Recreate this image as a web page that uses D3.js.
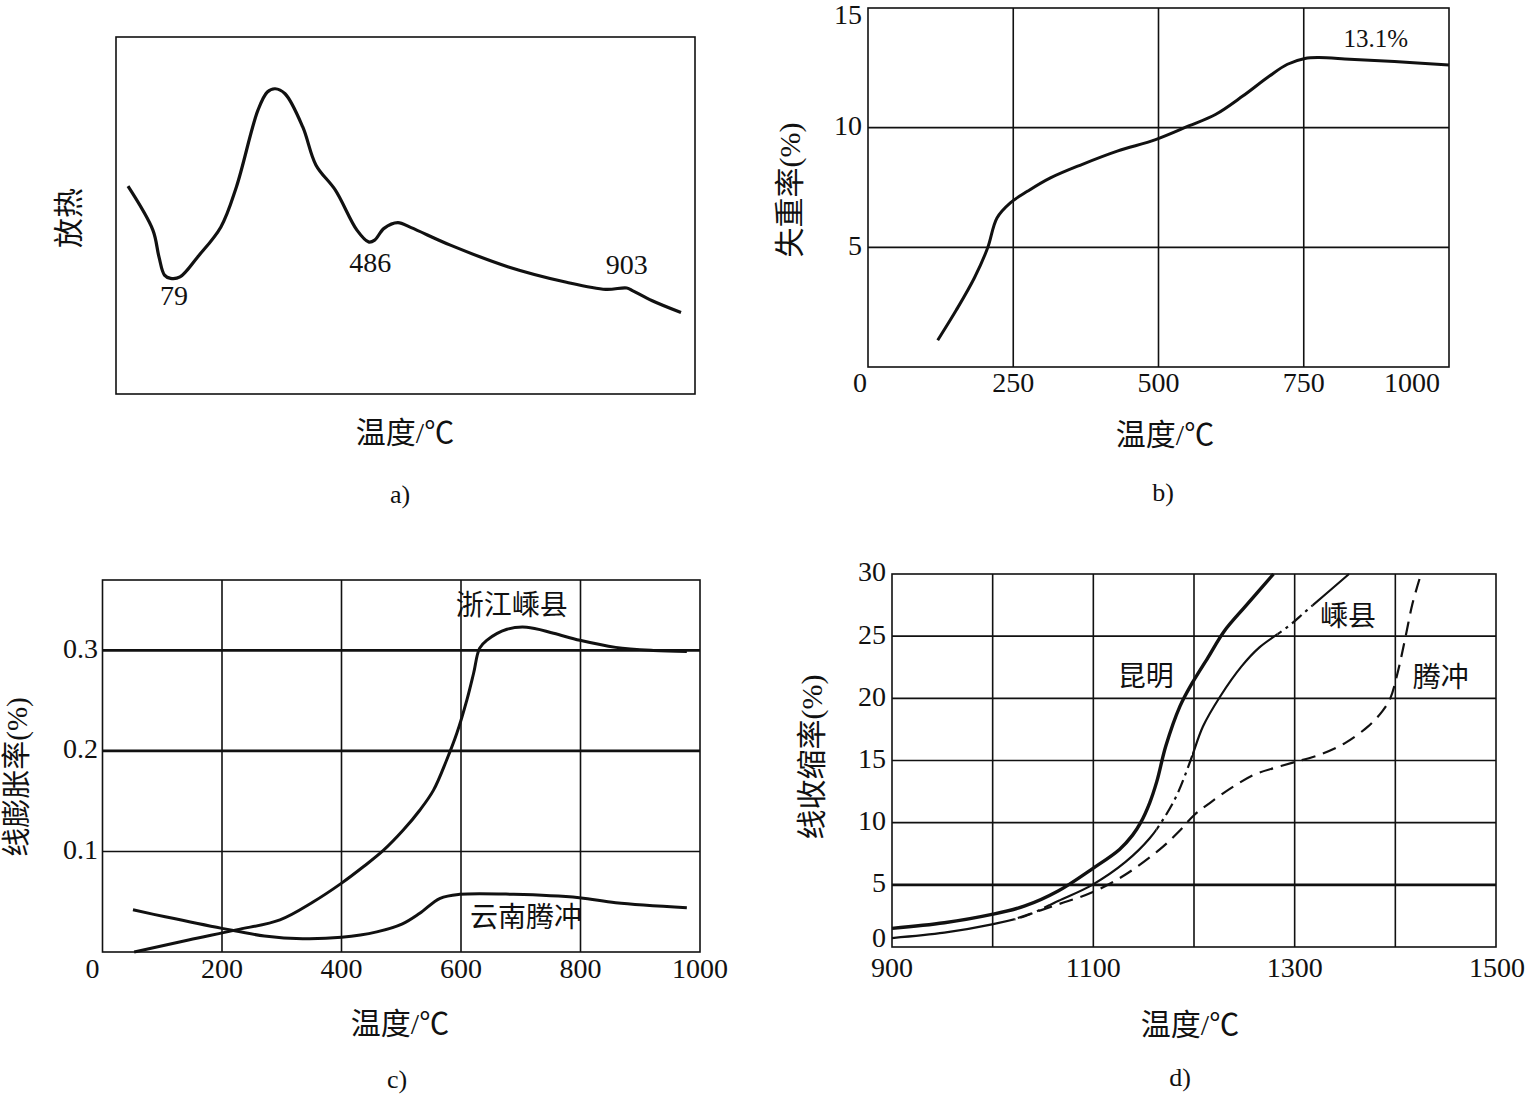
<!DOCTYPE html>
<html><head><meta charset="utf-8">
<script src="https://cdn.jsdelivr.net/npm/d3@7"></script>
<style>
body{margin:0;background:#fff}
svg text{font-family:"Liberation Serif","Noto Sans CJK SC",serif;fill:#111}
</style></head>
<body><svg id="chart" width="1527" height="1097"></svg>
<script>
// ---------- DATA ----------
// a) DTA curve (temperature °C, relative heat signal)
const dtaTemp = [0,45,56,66,77,94,126,168,196,235,252,266,284,316,340,375,414,435,446,463,488,512,583,688,793,864,902,913,948,1000];
const dtaSignal = [58.2,45.9,38.4,33.3,32.4,32.8,38.4,46.8,58,79.5,84.6,85.5,84.1,74.8,64.1,57.1,45.9,42.6,43.1,46.4,48,46.6,41.7,35.6,31.3,29.3,29.7,28.9,26.1,22.8];
const dtaPeakLabels = ["79","486","903"];
const dtaPeakLabelT = [83,438,902];
const dtaPeakLabelV = [26.6,36.1,35.3];

// b) weight loss
const tgTemp = [120,152,183,206,222,245,275,314,368,429,495,552,598,645,691,722,752,775,829,906,1000];
const tgLoss = [1.12,2.38,3.72,4.98,6.23,6.86,7.35,7.9,8.46,9.02,9.5,10.07,10.55,11.32,12.16,12.65,12.89,12.93,12.86,12.76,12.62];
const tgXTicks = [0,250,500,750,1000];
const tgYTicks = [5,10,15];
const tgNote = "13.1%";

// c) linear expansion
const expTempA = [53,144,224,297,353,399,437,470,503,531,554,576,593,610,621,631,643,677,710,755,799,859,922,978];
const expValA  = [0,0.012,0.022,0.032,0.050,0.068,0.085,0.101,0.121,0.141,0.161,0.191,0.2175,0.251,0.277,0.302,0.310,0.321,0.323,0.317,0.310,0.303,0.300,0.299];
const expTempB = [51,105,200,271,335,400,459,502,531,565,598,688,798,859,978];
const expValB  = [0.042,0.035,0.0235,0.016,0.0132,0.0146,0.020,0.028,0.0385,0.0534,0.0574,0.0574,0.054,0.049,0.044];
const expSeriesNames = ["浙江嵊县","云南腾冲"];
const expXTicks = [0,200,400,600,800,1000];
const expYTicks = [0.1,0.2,0.3];

// d) linear shrinkage
const shrTempKM = [900,952,998,1032,1065,1099,1126,1139,1147,1156,1163,1172,1186,1198,1214,1230,1251,1279];
const shrValKM  = [1.5,1.95,2.6,3.3,4.5,6.29,7.85,9.0,10.0,11.6,13.3,16.16,19.35,21.2,23.3,25.4,27.4,30.0];
const shrTempSX = [900,952,998,1032,1065,1099,1132,1156,1172,1184,1197,1209,1226,1247,1265,1293,1312,1354];
const shrValSX  = [0.72,1.15,1.8,2.47,3.7,5.0,6.84,8.74,10.6,12.4,15.1,17.75,20.15,22.55,24.1,25.74,27.07,30];
const shrTempTC = [1025,1065,1099,1132,1166,1186,1200,1216,1239,1261,1280,1299,1326,1350,1373,1387,1395,1403,1410,1417,1424];
const shrValTC  = [2.33,3.43,4.4,5.83,7.85,9.37,10.6,11.6,12.9,13.9,14.4,14.85,15.5,16.4,17.75,18.95,20.0,22.3,24.9,27.6,29.6];
const shrSeriesNames = ["昆明","嵊县","腾冲"];
const shrSXBrokenRanges = [[1022,1056],[1163,1198],[1283,1318]];
const shrXTicks = [900,1000,1100,1200,1300,1400,1500];
const shrXTickLabels = [900,1100,1300,1500];
const shrYTicks = [0,5,10,15,20,25,30];

const axisTitles = {x:"温度/℃", a:"放热", b:"失重率(%)", c:"线膨胀率(%)", d:"线收缩率(%)"};
const captions = ["a)","b)","c)","d)"];

// ---------- DRAW ----------
const svg = d3.select("#chart");
const FS = 28;
const zip = (xs, ys) => xs.map((x,i)=>[x, ys[i]]);
const curve = d3.curveCatmullRom.alpha(0.5);

function text(g, x, y, s, opt={}) {
  return g.append("text").attr("x",x).attr("y",y).text(s)
    .attr("font-size", opt.size||FS)
    .attr("text-anchor", opt.anchor||"middle")
    .attr("dominant-baseline", opt.base||"middle")
    .attr("transform", opt.rot ? `rotate(-90,${x},${y})` : null);
}
function frame(g, x, y) {
  const [x0,x1] = x.range(), [y0,y1] = y.range();
  g.append("rect").attr("x",x0).attr("y",y1).attr("width",x1-x0).attr("height",y0-y1)
    .attr("fill","none").attr("stroke","#111").attr("stroke-width",1.6);
}
function vgrid(g, x, y, ticks, w=1.6) {
  g.selectAll(null).data(ticks).enter().append("line")
    .attr("x1",d=>x(d)).attr("x2",d=>x(d)).attr("y1",y.range()[0]).attr("y2",y.range()[1])
    .attr("stroke","#111").attr("stroke-width",w);
}
function hgrid(g, x, y, ticks, wfn) {
  g.selectAll(null).data(ticks).enter().append("line")
    .attr("y1",d=>y(d)).attr("y2",d=>y(d)).attr("x1",x.range()[0]).attr("x2",x.range()[1])
    .attr("stroke","#111").attr("stroke-width",d=>wfn?wfn(d):1.6);
}
function linePath(g, x, y, pts, w, dash) {
  return g.append("path").datum(pts)
    .attr("d", d3.line().x(d=>x(d[0])).y(d=>y(d[1])).curve(curve))
    .attr("fill","none").attr("stroke","#111").attr("stroke-width",w)
    .attr("stroke-dasharray", dash||null).attr("stroke-linejoin","round");
}
const TFS = 30; // axis title size
const YFS = 30; // rotated title size

// ----- a -----
{
  const g = svg.append("g");
  const x = d3.scaleLinear().domain([0,1000]).range([128,681]);
  const y = d3.scaleLinear().domain([0,100]).range([394,37]);
  g.append("rect").attr("x",116).attr("y",37).attr("width",579).attr("height",357)
    .attr("fill","none").attr("stroke","#111").attr("stroke-width",1.6);
  linePath(g, x, y, zip(dtaTemp, dtaSignal), 3.2);
  dtaPeakLabels.forEach((s,i)=> text(g, x(dtaPeakLabelT[i]), y(dtaPeakLabelV[i]), s));
  text(g, 72, 218, axisTitles.a, {rot:true, size:YFS});
  text(g, 405, 436, axisTitles.x, {size:TFS});
  text(g, 400, 497, captions[0], {size:26});
}

// ----- b -----
{
  const g = svg.append("g");
  const x = d3.scaleLinear().domain([0,1000]).range([868,1449]);
  const y = d3.scaleLinear().domain([0,15]).range([367,8]);
  vgrid(g, x, y, tgXTicks.slice(1,-1));
  hgrid(g, x, y, tgYTicks.slice(0,-1));
  frame(g, x, y);
  linePath(g, x, y, zip(tgTemp, tgLoss), 3);
  const lastX = tgXTicks[tgXTicks.length-1];
  tgXTicks.forEach(t => text(g, x(t) + (t===0?-8:(t===lastX?-37:0)), 386, String(t)));
  tgYTicks.forEach(t => text(g, 862, y(t)+(t===15?10:1), String(t), {anchor:"end"}));
  text(g, x(874), y(13.6), tgNote, {size:25});
  text(g, 793, 190, axisTitles.b, {rot:true, size:YFS});
  text(g, 1165, 438, axisTitles.x, {size:TFS});
  text(g, 1163, 495, captions[1], {size:26});
}

// ----- c -----
{
  const g = svg.append("g");
  const x = d3.scaleLinear().domain([0,1000]).range([102.5,700]);
  const y = d3.scaleLinear().domain([0,0.37]).range([952,580]);
  vgrid(g, x, y, expXTicks.slice(1,-1));
  hgrid(g, x, y, expYTicks, d => d>=0.2 ? 2.8 : 1.6);
  frame(g, x, y);
  linePath(g, x, y, zip(expTempA, expValA), 3);
  linePath(g, x, y, zip(expTempB, expValB), 3);
  expXTicks.forEach(t => text(g, x(t) + (t===0?-10:0), 972, String(t)));
  expYTicks.forEach(t => text(g, 98, y(t)+1, d3.format(".1f")(t), {anchor:"end"}));
  text(g, x(685), y(0.342), expSeriesNames[0]);
  text(g, x(709), y(0.0308), expSeriesNames[1]);
  text(g, 20, 777, axisTitles.c, {rot:true, size:29});
  text(g, 400, 1027, axisTitles.x, {size:TFS});
  text(g, 397, 1082, captions[2], {size:26});
}

// ----- d -----
{
  const g = svg.append("g");
  const x = d3.scaleLinear().domain([900,1500]).range([892,1496]);
  const y = d3.scaleLinear().domain([0,30]).range([947,574]);
  vgrid(g, x, y, shrXTicks.slice(1,-1));
  hgrid(g, x, y, shrYTicks.slice(1,-1), d => d===5 ? 2.8 : 1.6);
  frame(g, x, y);
  const defs = svg.append("defs");
  const solidClip = defs.append("clipPath").attr("id","sxSolid");
  const edges = [900, ...shrSXBrokenRanges.flat(), 1500];
  for (let i=0;i<edges.length;i+=2) {
    solidClip.append("rect").attr("x",x(edges[i])).attr("width",x(edges[i+1])-x(edges[i]))
      .attr("y",0).attr("height",1097);
  }
  const brokenClip = defs.append("clipPath").attr("id","sxBroken");
  shrSXBrokenRanges.forEach(r => brokenClip.append("rect").attr("x",x(r[0])).attr("width",x(r[1])-x(r[0]))
      .attr("y",0).attr("height",1097));
  linePath(g, x, y, zip(shrTempKM, shrValKM), 3.4);
  linePath(g, x, y, zip(shrTempSX, shrValSX), 2.2).attr("clip-path","url(#sxSolid)");
  linePath(g, x, y, zip(shrTempSX, shrValSX), 2.2, "13,5,3,5").attr("clip-path","url(#sxBroken)");
  linePath(g, x, y, zip(shrTempTC, shrValTC), 2.2, "14,8");
  shrXTickLabels.forEach(t => text(g, x(t)+(t===1500?1:0), 971, String(t)));
  shrYTicks.forEach(t => text(g, 886, y(t)+(t===0?-6:1), String(t), {anchor:"end"}));
  text(g, x(1152), y(21.5), shrSeriesNames[0]);
  text(g, x(1353), y(26.3), shrSeriesNames[1]);
  text(g, x(1445), y(21.4), shrSeriesNames[2]);
  text(g, 815, 757, axisTitles.d, {rot:true, size:YFS});
  text(g, 1190, 1028, axisTitles.x, {size:TFS});
  text(g, 1180, 1080, captions[3], {size:26});
}
</script></body></html>
